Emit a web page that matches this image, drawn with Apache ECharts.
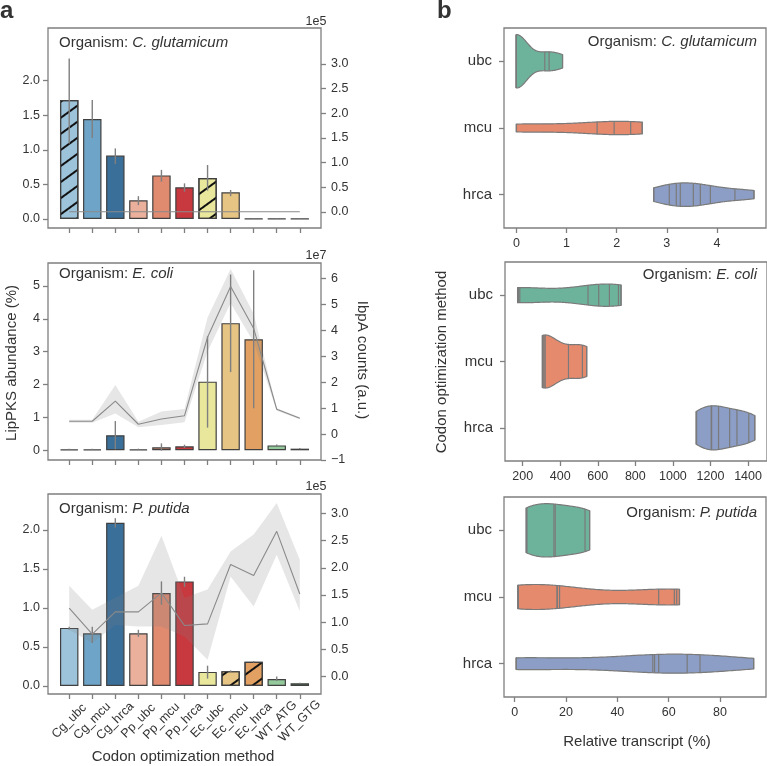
<!DOCTYPE html>
<html><head><meta charset="utf-8">
<script src="https://cdn.jsdelivr.net/npm/echarts@6/dist/echarts.min.js"></script>
<style>html,body{margin:0;padding:0;background:#fff}#c{width:767px;height:766px}</style>
</head><body><div id="c"></div>
<script>
// ---------------- DATA ----------------
const categories = ['Cg_ubc','Cg_mcu','Cg_hrca','Pp_ubc','Pp_mcu','Pp_hrca','Ec_ubc','Ec_mcu','Ec_hrca','WT_ATG','WT_GTG'];
const barColors = ['#9dc3da','#6ea4c7','#3a6f9a','#ebb09b','#e08a70','#c8393f','#e8e79c','#e5c484','#e2a162','#93c99b','#4e8a57'];

// Panel a, C. glutamicum
const cgAbundance   = [1.72, 1.446, 0.916, 0.27, 0.63, 0.458, 0.593, 0.386, 0.004, 0.005, 0.003];
const cgAbundanceLo = [1.09, 1.17, 0.795, 0.20, 0.54, 0.395, 0.41, 0.33, 0.0, 0.0, 0.0];
const cgAbundanceHi = [2.32, 1.72, 1.02, 0.33, 0.71, 0.515, 0.78, 0.42, 0.008, 0.01, 0.006];
const cgIbpA   = [400, 400, 500, 400, 400, 400, 500, 400, 400, 400, 400];
const cgIbpALo = [200, 200, 300, 200, 200, 200, 300, 200, 200, 200, 200];
const cgIbpAHi = [600, 600, 700, 600, 600, 600, 700, 600, 600, 600, 600];
const cgHatched = [1,0,0,0,0,0,1,0,0,0,0];

// Panel a, E. coli
const ecAbundance   = [0.03, 0.03, 0.46, 0.03, 0.09, 0.12, 2.09, 3.87, 3.38, 0.15, 0.05];
const ecAbundanceLo = [0.01, 0.01, 0.03, 0.01, -0.01, 0.07, 0.69, 2.38, 1.28, 0.12, 0.03];
const ecAbundanceHi = [0.05, 0.05, 0.89, 0.05, 0.21, 0.17, 3.47, 5.35, 5.48, 0.18, 0.07];
const ecIbpA   = [0.495e7, 0.495e7, 1.27e7, 0.38e7, 0.585e7, 0.71e7, 3.74e7, 5.70e7, 4.08e7, 0.96e7, 0.61e7];
const ecIbpALo = [0.44e7, 0.44e7, 0.80e7, 0.26e7, 0.35e7, 0.46e7, 3.19e7, 5.06e7, 3.55e7, 0.90e7, 0.57e7];
const ecIbpAHi = [0.55e7, 0.55e7, 1.90e7, 0.48e7, 0.87e7, 0.97e7, 4.50e7, 6.37e7, 4.65e7, 1.00e7, 0.65e7];
const ecHatched = [0,0,0,0,0,0,0,0,0,0,0];

// Panel a, P. putida
const ppAbundance   = [0.744, 0.675, 2.09, 0.675, 1.19, 1.34, 0.18, 0.19, 0.31, 0.09, 0.034];
const ppAbundanceLo = [0.72, 0.55, 2.03, 0.63, 1.04, 1.27, 0.094, 0.18, 0.30, 0.065, 0.03];
const ppAbundanceHi = [0.76, 0.76, 2.15, 0.72, 1.34, 1.40, 0.26, 0.20, 0.32, 0.12, 0.04];
const ppIbpA   = [1.26e5, 0.78e5, 1.19e5, 1.19e5, 1.54e5, 0.94e5, 0.97e5, 2.06e5, 1.86e5, 2.67e5, 1.52e5];
const ppIbpALo = [0.86e5, 0.62e5, 0.95e5, 0.92e5, 0.92e5, 0.74e5, 0.31e5, 1.84e5, 1.29e5, 2.24e5, 1.20e5];
const ppIbpAHi = [1.67e5, 1.23e5, 1.45e5, 1.67e5, 2.59e5, 1.45e5, 1.60e5, 2.30e5, 2.61e5, 3.19e5, 2.15e5];
const ppHatched = [0,0,0,0,0,0,0,1,1,0,0];

// Tick values
const abundTicksHalf = [0, 0.5, 1.0, 1.5, 2.0];
const abundTicksEc = [0, 1, 2, 3, 4, 5];
const ibpaTicks1e5 = [0, 0.5e5, 1.0e5, 1.5e5, 2.0e5, 2.5e5, 3.0e5];
const ibpaTicks1e7 = [-1e7, 0, 1e7, 2e7, 3e7, 4e7, 5e7, 6e7];

// Panel b: relative transcript observations (one stick per observation)
const violinCats = ['ubc', 'mcu', 'hrca'];
const violinColors = ['#6db39c', '#e68a6e', '#8c9ec5'];
const cgUbc  = [0, 0, 0, 0, 0, 0, 0, 0.566, 0.652, 0.92];
const cgMcu  = [0, 0, 1.61, 1.95, 2.28, 2.51];
const cgHrca = [2.74, 3.05, 3.19, 3.27, 3.53, 3.67, 3.87, 4.36, 4.74];
const ecUbc  = [173, 178, 185, 548, 605, 662, 710, 724];
const ecMcu  = [305, 309, 314, 320, 444, 518, 541];
const ecHrca = [1124, 1126, 1204, 1206, 1243, 1302, 1341, 1404, 1436];
const ppUbc  = [4.5, 4.8, 15.3, 15.8, 27.4, 29.2];
const ppMcu  = [1.3, 1.3, 1.3, 1.3, 16.5, 16.6, 17.5, 56.1, 62.2, 63.1, 64.2];
const ppHrca = [0.65, 0.65, 0.65, 53.8, 54.5, 56.1, 67.2, 72.2, 93.1];
const cgXTicks = [0, 1, 2, 3, 4];
const ecXTicks = [200, 400, 600, 800, 1000, 1200, 1400];
const ppXTicks = [0, 20, 40, 60, 80];

// ---------------- HELPERS ----------------
const FONT = 'Liberation Sans, Arial, Helvetica, sans-serif';
const AXC = '#7f7f7f';
const TXT = '#333';
const idx = categories.map((c, i) => i);

function kde(obs, gridsize) {
  const n = obs.length;
  const mean = obs.reduce((a, b) => a + b, 0) / n;
  const sd = Math.sqrt(obs.reduce((a, b) => a + (b - mean) * (b - mean), 0) / (n - 1));
  const bw = sd * Math.pow(n, -0.2);
  const f = x => obs.reduce((a, xi) => a + Math.exp(-0.5 * ((x - xi) / bw) ** 2), 0) / (n * bw * Math.sqrt(2 * Math.PI));
  const lo = Math.min(...obs), hi = Math.max(...obs);
  const xs = [], ds = [];
  for (let k = 0; k < gridsize; k++) { const x = lo + (hi - lo) * k / (gridsize - 1); xs.push(x); ds.push(f(x)); }
  return { xs, ds, f, obs };
}

const grids = [
  { left: 48, top: 28, width: 273, height: 200 },
  { left: 48, top: 263, width: 273, height: 197 },
  { left: 48, top: 494, width: 273, height: 200 },
  { left: 504, top: 28, width: 262, height: 200 },
  { left: 505, top: 262, width: 262, height: 199 },
  { left: 504, top: 497, width: 262, height: 200 }
].map(g => Object.assign(g, { show: true, borderColor: AXC, borderWidth: 1.3, backgroundColor: 'transparent', containLabel: false }));

function valAxis(o) {
  return Object.assign({
    type: 'value', scale: false,
    axisLine: { show: false, onZero: false },
    splitLine: { show: false },
    axisTick: { show: true, length: 5, lineStyle: { color: AXC, width: 1.3 }, customValues: o.ticks },
    axisLabel: { show: o.labels !== false, color: TXT, fontSize: 12.5, fontFamily: FONT, margin: o.margin || 8, customValues: o.ticks, formatter: o.fmt }
  }, o.extra || {}, { gridIndex: o.grid, min: o.min, max: o.max, position: o.position });
}

const f1 = v => v.toFixed(1);
const fi = v => String(Math.round(v));
const f5 = v => (v / 1e5).toFixed(1);
const f7 = v => { const r = Math.round(v / 1e7); return r < 0 ? '\u2212' + Math.abs(r) : String(r); };

const xAxes = [
  valAxis({ grid: 0, min: -0.92, max: 10.92, ticks: idx, labels: false, position: 'bottom' }),
  valAxis({ grid: 1, min: -0.92, max: 10.92, ticks: idx, labels: false, position: 'bottom' }),
  valAxis({ grid: 2, min: -0.92, max: 10.92, ticks: idx, position: 'bottom', fmt: v => categories[Math.round(v)] || '' }),
  valAxis({ grid: 3, min: -0.248, max: 4.98, ticks: cgXTicks, position: 'bottom', fmt: fi, margin: 9 }),
  valAxis({ grid: 4, min: 106, max: 1501, ticks: ecXTicks, position: 'bottom', fmt: fi, margin: 9 }),
  valAxis({ grid: 5, min: -4.15, max: 97.9, ticks: ppXTicks, position: 'bottom', fmt: fi, margin: 9 })
];
xAxes[2].axisLabel.rotate = 45;
xAxes[2].axisLabel.align = 'center';
xAxes[2].axisLabel.verticalAlign = 'middle';
xAxes[2].axisLabel.margin = 27;

const yAxes = [
  valAxis({ grid: 0, min: -0.13, max: 2.76, ticks: abundTicksHalf, fmt: f1, position: 'left' }),
  valAxis({ grid: 0, min: -0.324e5, max: 3.73e5, ticks: ibpaTicks1e5, fmt: f5, position: 'right', margin: 10 }),
  valAxis({ grid: 1, min: -0.295, max: 5.70, ticks: abundTicksEc, fmt: fi, position: 'left' }),
  valAxis({ grid: 1, min: -1.0e7, max: 6.606e7, ticks: ibpaTicks1e7, fmt: f7, position: 'right', margin: 10 }),
  valAxis({ grid: 2, min: -0.103, max: 2.46, ticks: abundTicksHalf, fmt: f1, position: 'left' }),
  valAxis({ grid: 2, min: -0.318e5, max: 3.356e5, ticks: ibpaTicks1e5, fmt: f5, position: 'right', margin: 10 }),
  valAxis({ grid: 3, min: -0.5, max: 2.5, ticks: [0, 1, 2], fmt: v => violinCats[Math.round(v)], position: 'left', margin: 12, extra: { inverse: true } }),
  valAxis({ grid: 4, min: -0.5, max: 2.5, ticks: [0, 1, 2], fmt: v => violinCats[Math.round(v)], position: 'left', margin: 12, extra: { inverse: true } }),
  valAxis({ grid: 5, min: -0.5, max: 2.5, ticks: [0, 1, 2], fmt: v => violinCats[Math.round(v)], position: 'left', margin: 12, extra: { inverse: true } })
];
[6, 7, 8].forEach(k => { yAxes[k].axisLabel.fontSize = 15; });

const series = [];
const panelsA = [
  { g: 0, ab: cgAbundance, lo: cgAbundanceLo, hi: cgAbundanceHi, ib: cgIbpA, ibLo: cgIbpALo, ibHi: cgIbpAHi, hatch: cgHatched },
  { g: 1, ab: ecAbundance, lo: ecAbundanceLo, hi: ecAbundanceHi, ib: ecIbpA, ibLo: ecIbpALo, ibHi: ecIbpAHi, hatch: ecHatched },
  { g: 2, ab: ppAbundance, lo: ppAbundanceLo, hi: ppAbundanceHi, ib: ppIbpA, ibLo: ppIbpALo, ibHi: ppIbpAHi, hatch: ppHatched }
];
const hatchDecal = { symbol: 'rect', symbolSize: 1, color: '#111', dashArrayX: [1, 0], dashArrayY: [1.8, 11], rotation: -Math.PI / 5 };
panelsA.forEach(p => {
  const gw = grids[p.g].width;
  const bw = 0.8 * gw / (10.92 + 0.92);
  series.push({
    type: 'bar', xAxisIndex: p.g, yAxisIndex: p.g * 2, barWidth: bw, z: 2,
    data: p.ab.map((v, i) => ({ value: [i, v], itemStyle: Object.assign({ color: barColors[i], borderColor: '#404040', borderWidth: 1.2 }, p.hatch[i] ? { decal: hatchDecal } : {}) })),
    animation: false
  });
  series.push({
    type: 'custom', xAxisIndex: p.g, yAxisIndex: p.g * 2, z: 3,
    data: p.ab.map((v, i) => [i, p.lo[i], p.hi[i]]),
    encode: { x: 0, y: [1, 2] },
    renderItem: (params, api) => {
      const a = api.coord([api.value(0), api.value(1)]);
      const b = api.coord([api.value(0), api.value(2)]);
      return { type: 'line', shape: { x1: a[0], y1: a[1], x2: b[0], y2: b[1] }, style: { stroke: '#7f7f7f', lineWidth: 1.4 } };
    },
    animation: false
  });
  series.push({
    type: 'custom', xAxisIndex: p.g, yAxisIndex: p.g * 2 + 1, z: 4,
    data: [[0, p.ib[0]]],
    renderItem: (params, api) => {
      const pts = [];
      p.ibHi.forEach((v, i) => pts.push(api.coord([i, v])));
      for (let i = p.ibLo.length - 1; i >= 0; i--) pts.push(api.coord([i, p.ibLo[i]]));
      return { type: 'polygon', shape: { points: pts }, style: { fill: 'rgba(128,128,128,0.2)', stroke: 'none' } };
    },
    animation: false
  });
  series.push({
    type: 'line', xAxisIndex: p.g, yAxisIndex: p.g * 2 + 1, z: 5, symbol: 'none',
    data: p.ib.map((v, i) => [i, v]),
    lineStyle: { color: '#8a8a8a', width: 1.1 },
    animation: false
  });
});

const panelsB = [
  { g: 3, obs: [cgUbc, cgMcu, cgHrca] },
  { g: 4, obs: [ecUbc, ecMcu, ecHrca] },
  { g: 5, obs: [ppUbc, ppMcu, ppHrca] }
];
panelsB.forEach(p => {
  const ks = p.obs.map(o => kde(o, 100));
  const maxD = Math.max(...ks.map(k => Math.max(...k.ds)));
  const scale = 0.4 / maxD;
  series.push({
    type: 'custom', xAxisIndex: p.g, yAxisIndex: 6 + (p.g - 3), z: 3,
    data: ks.map((k, i) => [k.xs[0], i]),
    encode: { x: 0, y: 1 },
    renderItem: (params, api) => {
      const i = params.dataIndex, k = ks[i];
      const pts = [];
      k.xs.forEach((x, j) => pts.push(api.coord([x, i - k.ds[j] * scale])));
      for (let j = k.xs.length - 1; j >= 0; j--) pts.push(api.coord([k.xs[j], i + k.ds[j] * scale]));
      const children = [{ type: 'polygon', shape: { points: pts }, style: { fill: violinColors[i], stroke: '#7a7a7a', lineWidth: 1.2 } }];
      k.obs.forEach(x => {
        const h = k.f(x) * scale;
        const a = api.coord([x, i - h]), b = api.coord([x, i + h]);
        children.push({ type: 'line', shape: { x1: a[0], y1: a[1], x2: b[0], y2: b[1] }, style: { stroke: '#7a7a7a', lineWidth: 1.2 } });
      });
      return { type: 'group', children };
    },
    animation: false
  });
});

function txt(x, y, text, o) {
  o = o || {};
  return {
    type: 'text', x, y, rotation: o.rot || 0, z: 10,
    style: { text, fill: TXT, fontFamily: FONT, fontSize: o.size || 15, fontWeight: o.weight || 'normal',
      align: o.align || 'center', verticalAlign: 'middle', rich: o.rich }
  };
}
function org(x, y, name, align) {
  return txt(x, y, '{n|Organism: }{i|' + name + '}', { align, rich: {
    n: { fontFamily: FONT, fontSize: 15, fill: TXT },
    i: { fontFamily: FONT, fontSize: 15, fontStyle: 'italic', fill: TXT } } });
}

const graphics = [
  txt(0, 11, 'a', { size: 24, weight: 'bold', align: 'left' }),
  txt(437, 11, 'b', { size: 24, weight: 'bold', align: 'left' }),
  org(59, 43, 'C. glutamicum', 'left'),
  org(59, 274, 'E. coli', 'left'),
  org(59, 509, 'P. putida', 'left'),
  org(757, 42, 'C. glutamicum', 'right'),
  org(757, 275, 'E. coli', 'right'),
  org(757, 513, 'P. putida', 'right'),
  txt(316, 22, '1e5', { size: 12.5 }),
  txt(316, 256, '1e7', { size: 12.5 }),
  txt(316, 487, '1e5', { size: 12.5 }),
  txt(12, 363, 'LipPKS abundance (%)', { rot: Math.PI / 2 }),
  txt(362, 360, 'IbpA counts (a.u.)', { rot: -Math.PI / 2 }),
  txt(183, 757, 'Codon optimization method'),
  txt(442, 362, 'Codon optimization method', { rot: Math.PI / 2 }),
  txt(637, 742, 'Relative transcript (%)')
];

const chart = echarts.init(document.getElementById('c'), null, { renderer: 'canvas' });
chart.setOption({
  backgroundColor: '#fff',
  animation: false,
  grid: grids,
  xAxis: xAxes,
  yAxis: yAxes,
  series,
  graphic: graphics
});
</script></body></html>
